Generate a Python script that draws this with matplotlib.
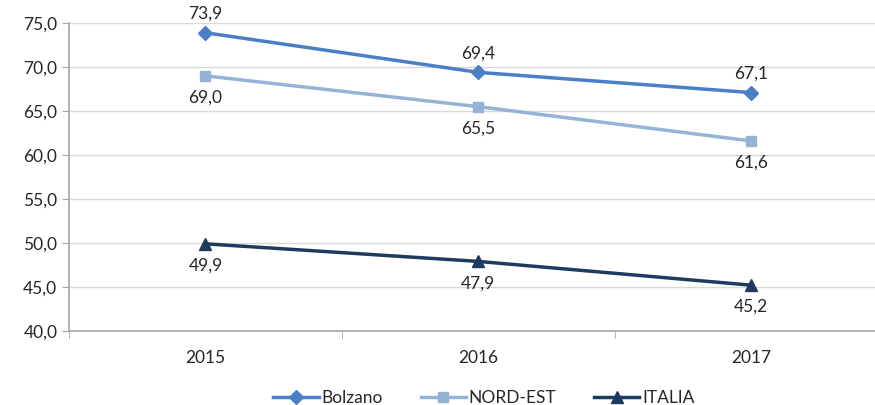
import numpy as np
import matplotlib
matplotlib.use('Agg')
import matplotlib.pyplot as plt
from matplotlib.ticker import FuncFormatter, FixedLocator

plt.rcParams['font.family'] = ['Lato', 'DejaVu Sans']
plt.rcParams['font.size'] = 12.5

# Data
years = ['2015', '2016', '2017']
bolzano = [73.9, 69.4, 67.1]
nord_est = [69.0, 65.5, 61.6]
italia = [49.9, 47.9, 45.2]

series = [
    ('Bolzano', bolzano, '#4A7EC7', 'D', 7, 'above'),
    ('NORD-EST', nord_est, '#95B3D7', 's', 7, 'below'),
    ('ITALIA', italia, '#1F3A5F', '^', 8, 'below'),
]

fig = plt.figure(figsize=(8.75, 4.05), dpi=100)
ax = fig.add_axes([0.079, 0.183, 0.935, 0.76])

x = np.arange(len(years))
for name, vals, col, mk, ms, pos in series:
    ax.plot(x, vals, color=col, lw=2.5, marker=mk, ms=ms, label=name)
    for xi, v in zip(x, vals):
        txt = f'{v:.1f}'.replace('.', ',')
        if pos == 'above':
            ax.annotate(txt, (xi, v), xytext=(0, 8), textcoords='offset points',
                        ha='center', va='bottom', fontsize=12.5, color='#262626')
        else:
            ax.annotate(txt, (xi, v), xytext=(0, -10), textcoords='offset points',
                        ha='center', va='top', fontsize=12.5, color='#262626')

ax.set_ylim(40, 75)
ax.set_xlim(-0.5, 2.5)
ax.set_yticks(np.arange(40, 76, 5))
ax.yaxis.set_major_formatter(FuncFormatter(lambda v, p: f'{v:.1f}'.replace('.', ',')))
ax.set_xticks(x)
ax.set_xticklabels(years)
ax.xaxis.set_minor_locator(FixedLocator([-0.5, 0.5, 1.5, 2.5]))
ax.tick_params(axis='x', which='major', length=0, pad=14, labelsize=12.5, labelcolor='#262626')
ax.tick_params(axis='x', which='minor', length=5, color='#A6A6A6')
ax.tick_params(axis='y', length=5, color='#A6A6A6', labelsize=12.5, labelcolor='#262626')

ax.grid(axis='y', color='#D9D9D9', lw=1)
ax.set_axisbelow(True)
for s in ['top', 'right']:
    ax.spines[s].set_visible(False)
for s in ['left', 'bottom']:
    ax.spines[s].set_color('#A6A6A6')
    ax.spines[s].set_linewidth(1.2)

ax.legend(loc='lower center', bbox_to_anchor=(0.507, -0.285), ncol=3,
          frameon=False, fontsize=12.5, handlelength=2.6, columnspacing=2.2,
          handletextpad=0.15, labelcolor='#262626', borderpad=0.2)

fig.savefig('out.png', dpi=100)
